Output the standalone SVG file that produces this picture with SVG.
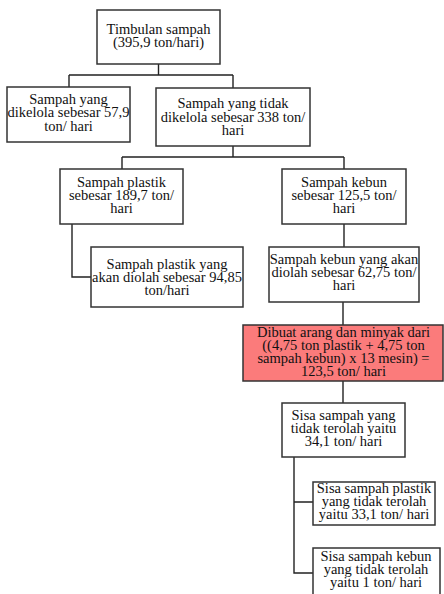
<svg xmlns="http://www.w3.org/2000/svg" width="444" height="594" viewBox="0 0 444 594">
<style>
.box{fill:#fff;stroke:#333;stroke-width:1.5}
.red{fill:#fb7b7b;stroke:#333;stroke-width:1.5}
.t{font-family:"Liberation Serif","Times New Roman",serif;font-size:14.5px;fill:#111;text-anchor:middle}
.c{fill:none;stroke:#222;stroke-width:1.4}
</style>
<rect width="444" height="594" fill="#fff"/>
<g id="connectors">
<path class="c" d="M158.5,64V75M69,75H233M69,75V87M233,75V88"/>
<path class="c" d="M233,146V157M122,157H344M122,157V169M344,157V169"/>
<path class="c" d="M72,224V277H91"/>
<path class="c" d="M344,224V247"/>
<path class="c" d="M343,302V325"/>
<path class="c" d="M343,381V403"/>
<path class="c" d="M294,457V573H313M294,502H313"/>
</g>
<g id="n1"><rect class="box" x="97" y="10" width="123" height="54"/>
<text class="t" x="158.5" y="34">Timbulan sampah</text><text class="t" x="158.5" y="47">(395,9 ton/hari)</text></g>
<g id="n2"><rect class="box" x="7" y="87" width="123" height="55"/>
<text class="t" x="68.5" y="104">Sampah yang</text><text class="t" x="68.5" y="117">dikelola sebesar 57,9</text><text class="t" x="68.5" y="130.5">ton/ hari</text></g>
<g id="n3"><rect class="box" x="156" y="88" width="154" height="58"/>
<text class="t" x="233" y="108">Sampah yang tidak</text><text class="t" x="233" y="121.5">dikelola sebesar 338 ton/</text><text class="t" x="233" y="135">hari</text></g>
<g id="n4"><rect class="box" x="60" y="169" width="123" height="55"/>
<text class="t" x="121.5" y="187">Sampah plastik</text><text class="t" x="121.5" y="200">sebesar 189,7 ton/</text><text class="t" x="121.5" y="213">hari</text></g>
<g id="n5"><rect class="box" x="282" y="169" width="124" height="55"/>
<text class="t" x="344" y="187">Sampah kebun</text><text class="t" x="344" y="200">sebesar 125,5 ton/</text><text class="t" x="344" y="213">hari</text></g>
<g id="n6"><rect class="box" x="91" y="247" width="152" height="60"/>
<text class="t" x="167" y="269">Sampah plastik yang</text><text class="t" x="167" y="282">akan diolah sebesar 94,85</text><text class="t" x="167" y="294.5">ton/hari</text></g>
<g id="n7"><rect class="box" x="269" y="247" width="150" height="55"/>
<text class="t" x="344" y="264">Sampah kebun yang akan</text><text class="t" x="344" y="277">diolah sebesar 62,75 ton/</text><text class="t" x="344" y="290">hari</text></g>
<g id="n8"><rect class="red" x="243" y="325" width="200" height="56"/>
<text class="t" x="343.5" y="337">Dibuat arang dan minyak dari</text><text class="t" x="343.5" y="350">((4,75 ton plastik + 4,75 ton</text><text class="t" x="343.5" y="363">sampah kebun) x 13 mesin) =</text><text class="t" x="343.5" y="376">123,5 ton/ hari</text></g>
<g id="n9"><rect class="box" x="282" y="403" width="123" height="54"/>
<text class="t" x="343.5" y="420">Sisa sampah yang</text><text class="t" x="343.5" y="433">tidak terolah yaitu</text><text class="t" x="343.5" y="446">34,1 ton/ hari</text></g>
<g id="n10"><rect class="box" x="313" y="482" width="122" height="43"/>
<text class="t" x="374" y="493">Sisa sampah plastik</text><text class="t" x="374" y="506">yang tidak terolah</text><text class="t" x="374" y="519">yaitu 33,1 ton/ hari</text></g>
<g id="n11"><rect class="box" x="313" y="548" width="127" height="52"/>
<text class="t" x="376" y="561">Sisa sampah kebun</text><text class="t" x="376" y="574">yang tidak terolah</text><text class="t" x="376" y="587">yaitu 1 ton/ hari</text></g>
</svg>
